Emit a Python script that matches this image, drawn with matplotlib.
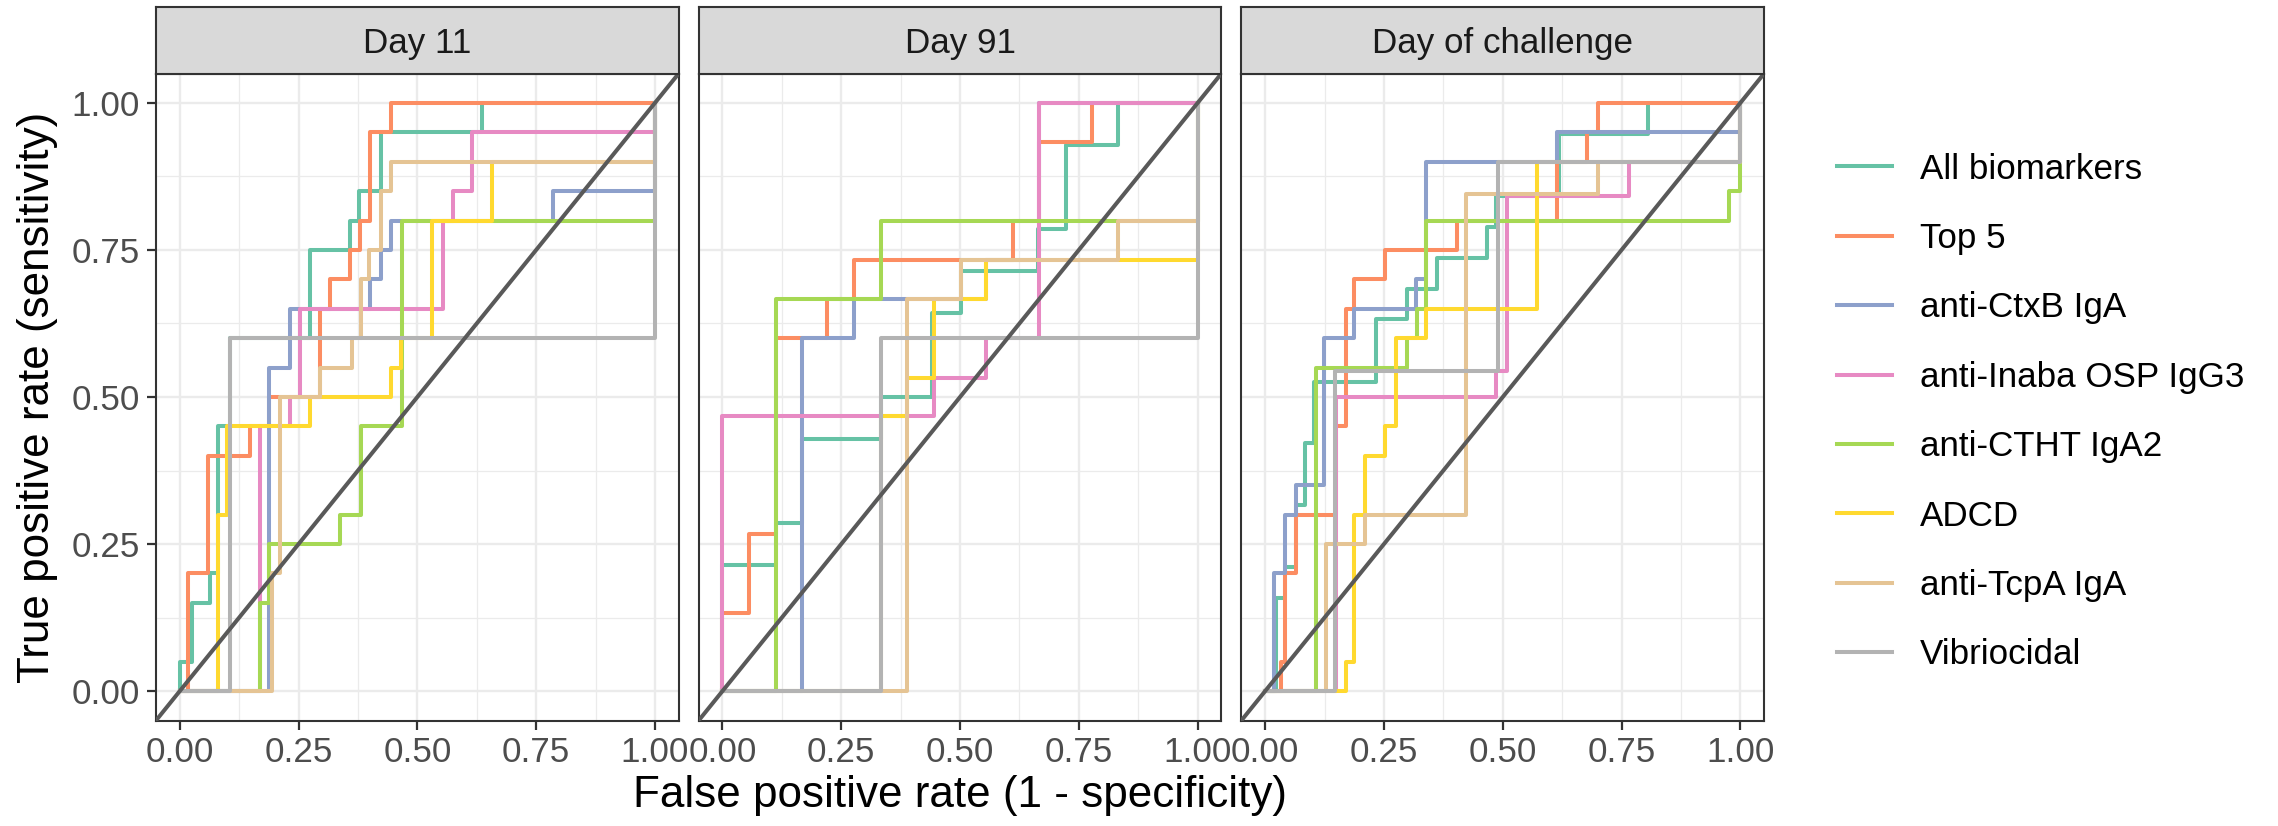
import matplotlib.pyplot as plt
from matplotlib.lines import Line2D

# ROC corner points (fpr, tpr), drawn as post-steps
markers = ["All biomarkers", "Top 5", "anti-CtxB IgA", "anti-Inaba OSP IgG3",
           "anti-CTHT IgA2", "ADCD", "anti-TcpA IgA", "Vibriocidal"]
colors = ["#66C2A5", "#FC8D62", "#8DA0CB", "#E78AC3",
          "#A6D854", "#FFD92F", "#E5C494", "#B3B3B3"]
panels = ["Day 11", "Day 91", "Day of challenge"]

fpr_day11 = [
    [0, 0, 0.025, 0.063, 0.081, 0.106, 0.275, 0.359, 0.378, 0.423, 0.637, 1],
    [0, 0.018, 0.06, 0.148, 0.187, 0.296, 0.317, 0.359, 0.38, 0.4, 0.445, 1],
    [0, 0.187, 0.232, 0.401, 0.423, 0.444, 0.785, 1],
    [0, 0.169, 0.232, 0.254, 0.553, 0.574, 0.616, 1],
    [0, 0.169, 0.187, 0.338, 0.382, 0.468, 1],
    [0, 0.081, 0.099, 0.275, 0.444, 0.466, 0.53, 0.658, 1],
    [0, 0.194, 0.211, 0.296, 0.363, 0.382, 0.398, 0.423, 0.445, 1],
    [0, 0.106, 1],
]
tpr_day11 = [
    [0, 0.05, 0.15, 0.2, 0.45, 0.6, 0.75, 0.8, 0.85, 0.95, 1, 1],
    [0, 0.2, 0.4, 0.45, 0.5, 0.65, 0.7, 0.75, 0.8, 0.95, 1, 1],
    [0, 0.55, 0.65, 0.7, 0.75, 0.8, 0.85, 1],
    [0, 0.45, 0.5, 0.65, 0.8, 0.85, 0.95, 1],
    [0, 0.15, 0.25, 0.3, 0.45, 0.8, 1],
    [0, 0.3, 0.45, 0.5, 0.55, 0.6, 0.8, 0.9, 1],
    [0, 0.2, 0.5, 0.55, 0.6, 0.7, 0.75, 0.85, 0.9, 1],
    [0, 0.6, 1],
]

fpr_day91 = [
    [0, 0, 0.112, 0.168, 0.333, 0.442, 0.502, 0.663, 0.723, 0.833, 1],
    [0, 0, 0.056, 0.112, 0.221, 0.277, 0.611, 0.667, 0.778, 1],
    [0, 0.168, 0.277, 0.554, 0.667, 1],
    [0, 0, 0.446, 0.554, 0.667, 1],
    [0, 0.112, 0.333, 1],
    [0, 0.333, 0.389, 0.446, 0.554, 1],
    [0, 0.389, 0.502, 0.833, 1],
    [0, 0.333, 1],
]
tpr_day91 = [
    [0, 0.214, 0.286, 0.429, 0.5, 0.643, 0.714, 0.786, 0.929, 1, 1],
    [0, 0.133, 0.267, 0.6, 0.667, 0.733, 0.8, 0.933, 1, 1],
    [0, 0.6, 0.667, 0.733, 1, 1],
    [0, 0.467, 0.533, 0.6, 1, 1],
    [0, 0.667, 0.8, 1],
    [0, 0.467, 0.533, 0.667, 0.733, 1],
    [0, 0.667, 0.733, 0.8, 1],
    [0, 0.6, 1],
]

fpr_challenge = [
    [0, 0.023, 0.041, 0.064, 0.083, 0.102, 0.234, 0.298, 0.362, 0.467, 0.486, 0.618, 0.806, 1],
    [0, 0.034, 0.041, 0.064, 0.15, 0.17, 0.188, 0.252, 0.403, 0.614, 0.678, 0.70, 1],
    [0, 0.019, 0.041, 0.064, 0.124, 0.188, 0.317, 0.339, 0.614, 1],
    [0, 0.15, 0.486, 0.509, 0.765, 1],
    [0, 0.106, 0.298, 0.32, 0.339, 0.976, 1],
    [0, 0.17, 0.188, 0.211, 0.252, 0.275, 0.339, 0.573, 1],
    [0, 0.128, 0.211, 0.422, 0.70, 1],
    [0, 0.147, 0.49, 1],
]
tpr_challenge = [
    [0, 0.158, 0.211, 0.316, 0.421, 0.526, 0.632, 0.684, 0.737, 0.789, 0.842, 0.947, 1, 1],
    [0, 0.05, 0.2, 0.3, 0.45, 0.65, 0.7, 0.75, 0.8, 0.9, 0.95, 1, 1],
    [0, 0.2, 0.3, 0.35, 0.6, 0.65, 0.7, 0.9, 0.95, 1],
    [0, 0.5, 0.545, 0.842, 0.9, 1],
    [0, 0.55, 0.6, 0.65, 0.8, 0.85, 1],
    [0, 0.05, 0.3, 0.4, 0.45, 0.6, 0.65, 0.9, 1],
    [0, 0.25, 0.3, 0.845, 0.9, 1],
    [0, 0.545, 0.9, 1],
]

all_fpr = [fpr_day11, fpr_day91, fpr_challenge]
all_tpr = [tpr_day11, tpr_day91, tpr_challenge]

ticks = [0, 0.25, 0.5, 0.75, 1.0]
tick_labels = ["0.00", "0.25", "0.50", "0.75", "1.00"]

plt.rcParams['font.family'] = ['Liberation Sans', 'DejaVu Sans']

W, H = 2278, 826
fig = plt.figure(figsize=(W / 100, H / 100), dpi=100)


def px_axes(left, top, width, height):
    return fig.add_axes([left / W, 1 - (top + height) / H, width / W, height / H])


small = 25.2
big = 31.7
panel_w, gap = 522.7, 20
panel_top, panel_h = 73.5, 647
strip_top = 7

for i, name in enumerate(panels):
    left = 156 + i * (panel_w + gap)
    ax = px_axes(left, panel_top, panel_w, panel_h)
    ax.set_xlim(-0.05, 1.05)
    ax.set_ylim(-0.05, 1.05)
    ax.set_xticks(ticks)
    ax.set_xticklabels(tick_labels)
    ax.set_yticks(ticks)
    ax.set_yticklabels(tick_labels)
    ax.set_xticks([0.125, 0.375, 0.625, 0.875], minor=True)
    ax.set_yticks([0.125, 0.375, 0.625, 0.875], minor=True)
    ax.grid(which='major', color='#EBEBEB', linewidth=1.7)
    ax.grid(which='minor', color='#EBEBEB', linewidth=0.9)
    ax.set_axisbelow(True)
    ax.tick_params(which='minor', length=0)
    ax.tick_params(which='major', length=6.5, width=1.6, color='#333333',
                   labelsize=small, labelcolor='#4D4D4D', pad=5)
    if i > 0:
        ax.tick_params(axis='y', which='major', length=0, labelleft=False)
    for sp in ax.spines.values():
        sp.set_color('#333333')
        sp.set_linewidth(1.5)

    for k in range(len(markers)):
        ax.plot(all_fpr[i][k], all_tpr[i][k], drawstyle='steps-post',
                color=colors[k], linewidth=2.9, zorder=3 + k * 0.01)
    ax.axline((0, 0), slope=1, color='#595959', linewidth=2.9, zorder=4)

    strip = px_axes(left, strip_top, panel_w, panel_top - strip_top)
    strip.set_facecolor('#D9D9D9')
    strip.set_xticks([])
    strip.set_yticks([])
    for sp in strip.spines.values():
        sp.set_color('#333333')
        sp.set_linewidth(1.5)
    strip.text(0.5, 0.45, name, ha='center', va='center', fontsize=small,
               color='#1A1A1A', transform=strip.transAxes)

fig.text(960 / W, 1 - 795 / H, "False positive rate (1 - specificity)",
         ha='center', va='center', fontsize=big)
fig.text(38 / W, 1 - 397 / H, "True positive rate (sensitivity)",
         ha='center', va='center', rotation=90, fontsize=big)

handles = [Line2D([0], [0], color=c, linewidth=2.9) for c in colors]
fig.legend(handles, markers, loc='center left', bbox_to_anchor=(1837 / W, 1 - 412 / H),
           frameon=False, fontsize=small, handlelength=1.57, handletextpad=0.8,
           labelspacing=1.04, borderpad=0, borderaxespad=0)

fig.savefig("out.png", dpi=100)
